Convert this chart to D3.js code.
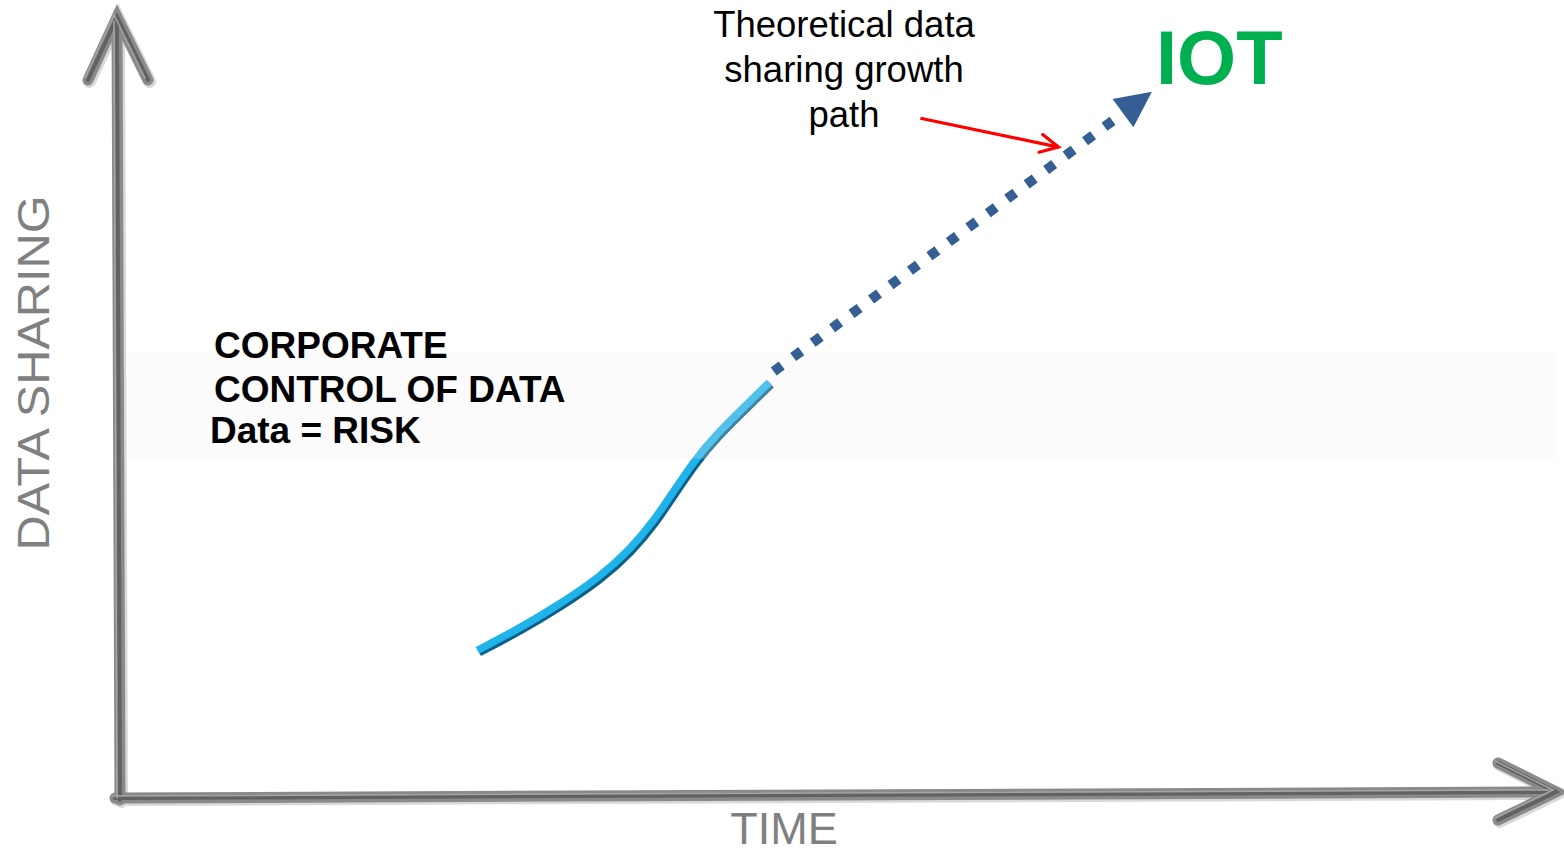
<!DOCTYPE html>
<html>
<head>
<meta charset="utf-8">
<script src="https://cdn.jsdelivr.net/npm/d3@7"></script>
<style>
  html, body { margin: 0; padding: 0; background: #ffffff; }
  svg { display: block; font-family: "Liberation Sans", Arial, sans-serif; }
</style>
</head>
<body>
<svg id="chart" width="1564" height="855"></svg>
<script>
// ---- data (in chart units 0..100 on both axes) ----
const curveTime    = [25.0, 28.0, 30.7, 33.5, 35.6, 37.3, 38.7, 40.1, 41.5, 43.3, 45.3];
const curveSharing = [18.7, 21.6, 24.6, 28.1, 31.6, 35.4, 39.3, 43.1, 46.2, 49.5, 53.1];
const pathTime     = [45.6, 71.9];   // theoretical growth path (start, arrow tip)
const pathSharing  = [54.5, 90.4];
const pointerTime    = [55.8, 65.4]; // red pointer arrow
const pointerSharing = [87.0, 83.3];
const bandSharing  = [43.3, 56.9];   // corporate-control band
const axisLabels   = { x: "TIME", y: "DATA SHARING" };
const noteLines    = ["Theoretical data", "sharing growth", "path"];
const bandLines    = ["CORPORATE", "CONTROL OF DATA", "Data = RISK"];
const targetLabel  = "IOT";

const svg = d3.select("#chart");
const x = d3.scaleLinear().domain([0, 100]).range([118, 1556]);
const y = d3.scaleLinear().domain([0, 100]).range([796, 17]);

const defs = svg.append("defs");
defs.append("marker")
  .attr("id", "redhead").attr("markerUnits", "userSpaceOnUse")
  .attr("viewBox", "-2 -12 24 24").attr("refX", 18).attr("refY", 0)
  .attr("markerWidth", 24).attr("markerHeight", 24).attr("orient", "auto")
  .append("path").attr("d", "M0,-9 L18,0 L0,9")
  .attr("fill", "none").attr("stroke", "#ff0000").attr("stroke-width", 3.2)
  .attr("stroke-linecap", "round");

// ---- growth curve ----
const curvePts = curveTime.map((t, i) => [x(t), y(curveSharing[i])]);
const line = d3.line().curve(d3.curveBasis);
svg.append("path").attr("d", line(curvePts.map(p => [p[0] + 1.5, p[1] + 2])))
  .attr("fill", "none").attr("stroke", "#0c5f86").attr("stroke-width", 8.5)
  .attr("stroke-linecap", "butt");
svg.append("path").attr("d", line(curvePts))
  .attr("fill", "none").attr("stroke", "#1fb3ea").attr("stroke-width", 7.5)
  .attr("stroke-linecap", "butt");

// ---- translucent band ----
svg.append("rect")
  .attr("x", x(0) + 10).attr("width", 1556 - x(0) - 10)
  .attr("y", y(bandSharing[1])).attr("height", y(bandSharing[0]) - y(bandSharing[1]))
  .attr("fill", "#eeeeee").attr("opacity", 0.24);

// ---- dotted theoretical path with triangle head ----
const p0 = [x(pathTime[0]), y(pathSharing[0])];
const tip = [x(pathTime[1]), y(pathSharing[1])];
const dx = tip[0] - p0[0], dy = tip[1] - p0[1];
const L = Math.hypot(dx, dy), ux = dx / L, uy = dy / L;
const headLen = 36, headHalf = 17.5;
const baseMid = [tip[0] - ux * headLen, tip[1] - uy * headLen];
const lineEnd = [tip[0] - ux * (headLen - 4), tip[1] - uy * (headLen - 4)];
svg.append("path").attr("d", d3.line()([p0, lineEnd]))
  .attr("fill", "none").attr("stroke", "#355f94").attr("stroke-width", 10)
  .attr("stroke-dasharray", "10 14.2");
svg.append("path")
  .attr("d", d3.line()([tip,
    [baseMid[0] - uy * headHalf, baseMid[1] + ux * headHalf],
    [baseMid[0] + uy * headHalf, baseMid[1] - ux * headHalf]]) + "Z")
  .attr("fill", "#355f94");

// ---- red pointer ----
svg.append("path")
  .attr("d", d3.line()([[x(pointerTime[0]), y(pointerSharing[0])], [x(pointerTime[1]), y(pointerSharing[1])]]))
  .attr("fill", "none").attr("stroke", "#ff0000").attr("stroke-width", 3.2)
  .attr("marker-end", "url(#redhead)");

// ---- axes (3D-ish gray arrows) ----
const ox = x(0), oy = y(0);
const yTop = y(100), xRight = x(100);
const axisPaths = [
  d3.line()([[ox + 2, oy + 4], [ox - 1, yTop + 6]]),
  d3.line()([[ox - 30, yTop + 63], [ox - 1, yTop], [ox + 30, yTop + 63]]),
  d3.line()([[ox - 3, oy + 2], [xRight - 4, oy - 4]]),
  d3.line()([[xRight - 58, oy - 33], [xRight, oy - 4], [xRight - 58, oy + 24]])
];
const axisG = svg.append("g").attr("fill", "none").attr("stroke-linejoin", "miter")
  .attr("stroke-linecap", "round");
axisPaths.forEach(d => {
  axisG.append("path").attr("d", d).attr("stroke", "#d9d9d9").attr("stroke-width", 13)
    .attr("transform", "translate(1.5,1.5)");
});
axisPaths.forEach(d => {
  axisG.append("path").attr("d", d).attr("stroke", "#8a8a8a").attr("stroke-width", 11);
});
axisPaths.forEach(d => {
  axisG.append("path").attr("d", d).attr("stroke", "#626262").attr("stroke-width", 4);
});
axisPaths.forEach(d => {
  axisG.append("path").attr("d", d).attr("stroke", "#a5a5a5").attr("stroke-width", 1.5)
    .attr("transform", "translate(-3,-2)");
});

// ---- axis labels ----
svg.append("text").text(axisLabels.x)
  .attr("x", 784).attr("y", 844).attr("text-anchor", "middle")
  .attr("font-size", 45).attr("fill", "#808080");
svg.append("text").text(axisLabels.y)
  .attr("transform", "translate(49,373) rotate(-90)").attr("text-anchor", "middle")
  .attr("font-size", 44).attr("textLength", 355).attr("lengthAdjust", "spacingAndGlyphs")
  .attr("fill", "#808080");

// ---- annotations ----
noteLines.forEach((t, i) => {
  svg.append("text").text(t)
    .attr("x", 844).attr("y", 37 + i * 45).attr("text-anchor", "middle")
    .attr("font-size", 36.5).attr("fill", "#000");
});
svg.append("text").text(targetLabel)
  .attr("x", 1156).attr("y", 84).attr("font-size", 76).attr("font-weight", "bold")
  .attr("fill", "#00b050");
const bandX = [214, 214, 210];
const bandY = [358, 402, 443];
bandLines.forEach((t, i) => {
  svg.append("text").text(t)
    .attr("x", bandX[i]).attr("y", bandY[i])
    .attr("font-size", 37).attr("font-weight", "bold").attr("fill", "#000");
});
</script>
</body>
</html>
